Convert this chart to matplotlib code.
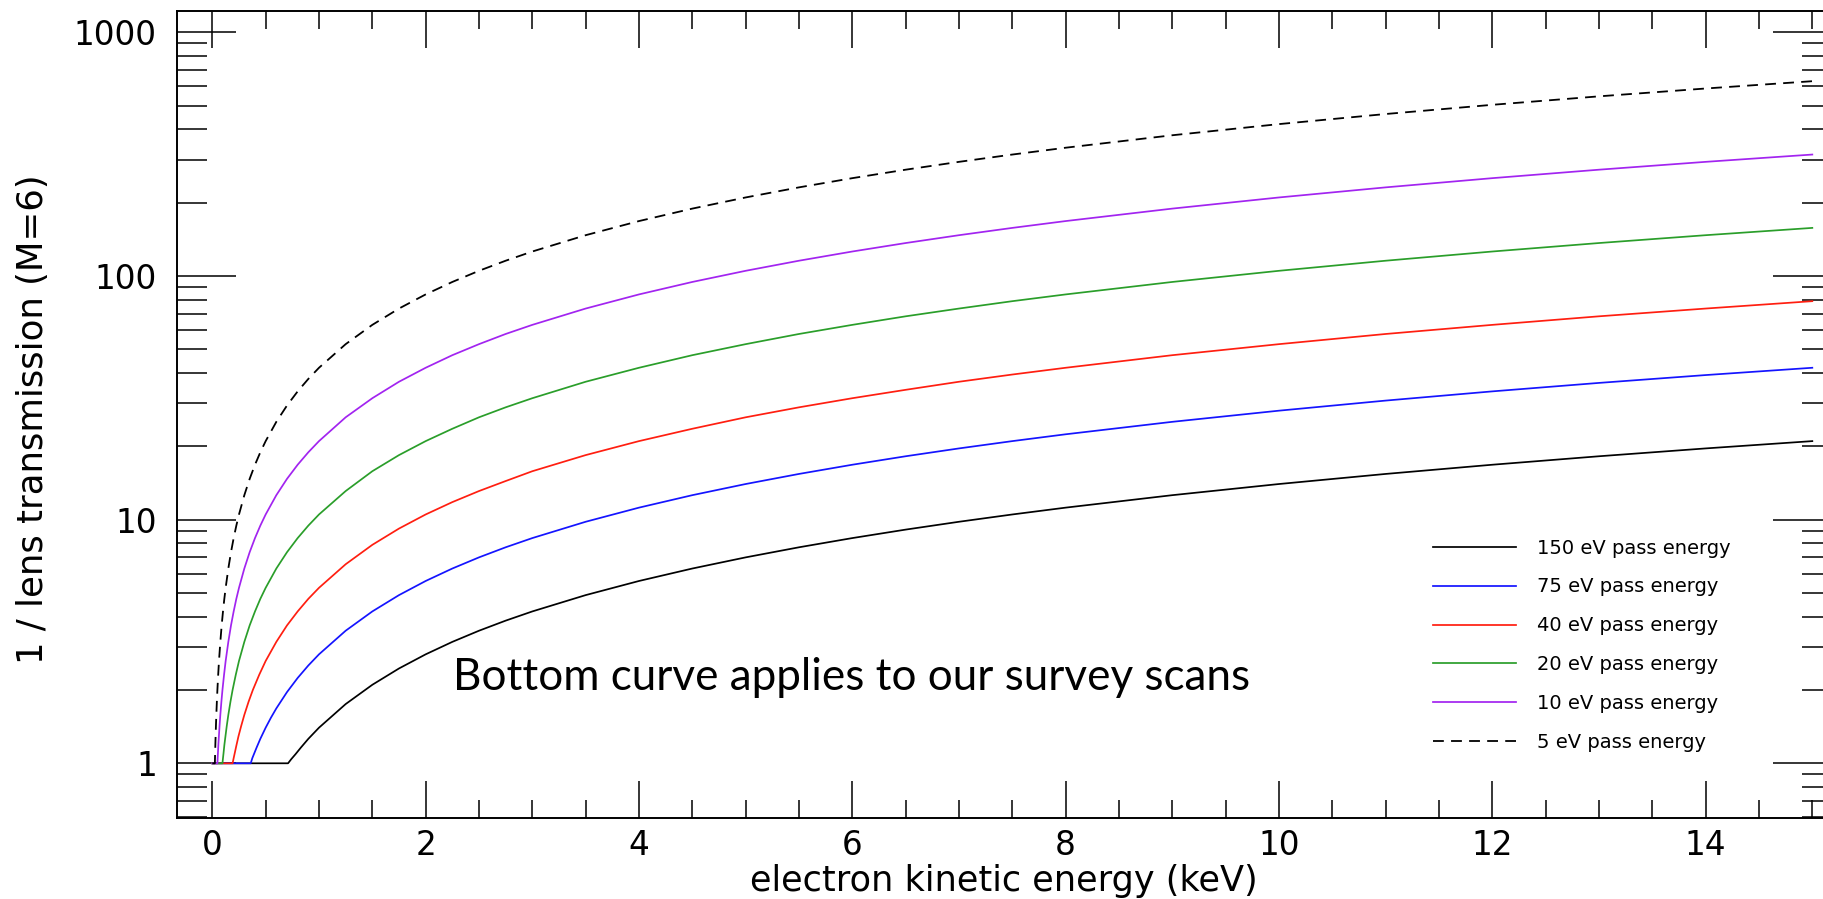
import matplotlib
matplotlib.use("Agg")
import matplotlib.pyplot as plt
from matplotlib import ticker

# ---- data (x in keV, y = 1 / lens transmission) ----
labels = ["150 eV pass energy", "75 eV pass energy", "40 eV pass energy",
          "20 eV pass energy", "10 eV pass energy", "5 eV pass energy"]
colors = ["#000000", "#1414ff", "#ff1e10", "#2a9e2a", "#a224f0", "#000000"]
styles = ["-", "-", "-", "-", "-", "--"]

# shared x positions (keV) at which every curve was read above 1 keV
x_tail = [1.0, 1.25, 1.5, 1.75, 2.0, 2.25, 2.5, 2.75, 3.0, 3.5, 4.0, 4.5, 5.0, 5.5,
          6.0, 6.5, 7, 7.5, 8, 9, 10, 11, 12, 13, 14, 15]

x150 = [0, 0.71, 0.74, 0.78, 0.83, 0.9] + x_tail
y150 = [1, 1, 1.04, 1.09, 1.16, 1.26,
        1.4, 1.75, 2.1, 2.45, 2.8, 3.15, 3.5, 3.85, 4.2, 4.9, 5.6, 6.3, 7.0, 7.7,
        8.4, 9.1, 9.8, 10.5, 11.2, 12.6, 14, 15.4, 16.8, 18.2, 19.6, 21]

x75 = [0, 0.36, 0.375, 0.39, 0.415, 0.45, 0.5, 0.55, 0.6, 0.7, 0.8, 0.9] + x_tail
y75 = [1, 1, 1.05, 1.09, 1.16, 1.26, 1.4, 1.54, 1.68, 1.96, 2.24, 2.52,
       2.8, 3.5, 4.2, 4.9, 5.6, 6.3, 7.0, 7.7, 8.4, 9.8, 11.2, 12.6, 14, 15.4,
       16.8, 18.2, 19.6, 21, 22.4, 25.2, 28, 30.8, 33.6, 36.4, 39.2, 42]

x40 = [0, 0.19, 0.2, 0.21, 0.225, 0.245, 0.27, 0.3, 0.34, 0.38, 0.44, 0.5, 0.6,
       0.7, 0.8, 0.9] + x_tail
y40 = [1, 1, 1.05, 1.1, 1.18, 1.29, 1.42, 1.58, 1.79, 2.0, 2.31, 2.63, 3.15, 3.68,
       4.2, 4.73,
       5.25, 6.56, 7.88, 9.19, 10.5, 11.8, 13.1, 14.4, 15.8, 18.4, 21, 23.6, 26.3,
       28.9, 31.5, 34.1, 36.8, 39.4, 42, 47.3, 52.5, 57.8, 63, 68.3, 73.5, 78.8]

x20 = [0, 0.095, 0.1, 0.105, 0.113, 0.123, 0.135, 0.15, 0.17, 0.19, 0.22, 0.25,
       0.3, 0.35, 0.4, 0.45, 0.5, 0.6, 0.7, 0.8, 0.9] + x_tail
y20 = [1, 1, 1.05, 1.1, 1.19, 1.29, 1.42, 1.58, 1.79, 2.0, 2.31, 2.63, 3.15, 3.68,
       4.2, 4.73, 5.25, 6.3, 7.35, 8.4, 9.45,
       10.5, 13.1, 15.8, 18.4, 21, 23.6, 26.3, 28.9, 31.5, 36.8, 42, 47.3, 52.5,
       57.8, 63, 68.3, 73.5, 78.8, 84, 94.5, 105, 115.5, 126, 136.5, 147, 157.5]

x10 = [0, 0.048, 0.05, 0.053, 0.057, 0.062, 0.068, 0.075, 0.085, 0.095, 0.11,
       0.125, 0.15, 0.175, 0.2, 0.225, 0.25, 0.3, 0.35, 0.4, 0.45, 0.5, 0.6, 0.7,
       0.8, 0.9] + x_tail
y10 = [1, 1, 1.05, 1.11, 1.2, 1.3, 1.43, 1.58, 1.79, 2.0, 2.31, 2.63, 3.15, 3.68,
       4.2, 4.73, 5.25, 6.3, 7.35, 8.4, 9.45, 10.5, 12.6, 14.7, 16.8, 18.9,
       21, 26.3, 31.5, 36.8, 42, 47.3, 52.5, 57.8, 63, 73.5, 84, 94.5, 105, 115.5,
       126, 136.5, 147, 157.5, 168, 189, 210, 231, 252, 273, 294, 315]

x5 = [0, 0.024, 0.025, 0.0265, 0.0285, 0.031, 0.034, 0.0375, 0.0425, 0.0475,
      0.055, 0.0625, 0.075, 0.0875, 0.1, 0.1125, 0.125, 0.15, 0.175, 0.2, 0.225,
      0.25, 0.3, 0.35, 0.4, 0.45, 0.5, 0.6, 0.7, 0.8, 0.9] + x_tail
y5 = [1, 1, 1.05, 1.11, 1.2, 1.3, 1.43, 1.58, 1.79, 2.0, 2.31, 2.63, 3.15, 3.68,
      4.2, 4.73, 5.25, 6.3, 7.35, 8.4, 9.45, 10.5, 12.6, 14.7, 16.8, 18.9, 21,
      25.2, 29.4, 33.6, 37.8,
      42, 52.5, 63, 73.5, 84, 94.5, 105, 115.5, 126, 147, 168, 189, 210, 231, 252,
      273, 294, 315, 336, 378, 420, 462, 504, 546, 588, 630]

xs = [x150, x75, x40, x20, x10, x5]
ys = [y150, y75, y40, y20, y10, y5]

xticks_major = [0, 2, 4, 6, 8, 10, 12, 14]
yticks_major = [1, 10, 100, 1000]
annotation = "Bottom curve applies to our survey scans"
xlabel = "electron kinetic energy (keV)"
ylabel = "1 / lens transmission (M=6)"

# ---- figure ----
W, H = 1823, 899
fig = plt.figure(figsize=(W / 100, H / 100), dpi=100)
L, R, T, B = 176.7, 1831.5, 11.0, 817.7
ax = fig.add_axes([L / W, (H - B) / H, (R - L) / W, (B - T) / H])

for x, y, c, s, lab in zip(xs, ys, colors, styles, labels):
    if s == "--":
        ax.plot(x, y, color=c, lw=1.3, dashes=(6.0, 4.0), label=lab)
    else:
        ax.plot(x, y, color=c, lw=1.25, label=lab)

ax.set_yscale("log")
ax.set_xlim(-0.334, 15.18)
ax.set_ylim(0.598, 1223)

ax.set_xticks(xticks_major)
ax.xaxis.set_minor_locator(ticker.MultipleLocator(0.5))
ax.set_yticks(yticks_major)
ax.yaxis.set_major_formatter(ticker.FuncFormatter(lambda v, p: f"{v:g}"))
ax.yaxis.set_minor_locator(ticker.LogLocator(base=10, subs=range(2, 10)))
ax.yaxis.set_minor_formatter(ticker.NullFormatter())

for sp in ax.spines.values():
    sp.set_linewidth(1.4)

ax.tick_params(axis="x", which="major", direction="in", length=26.6, width=1.1,
               top=True, bottom=True, labelsize=23.5, pad=8)
ax.tick_params(axis="x", which="minor", direction="in", length=13.3, width=1.1,
               top=True, bottom=True)
ax.tick_params(axis="y", which="major", direction="in", length=42.3, width=1.1,
               left=True, right=True, labelsize=23.5, pad=14.4)
ax.tick_params(axis="y", which="minor", direction="in", length=21.6, width=1.1,
               left=True, right=True)

ax.set_xlabel(xlabel, fontsize=25.3)
ax.set_ylabel(ylabel, fontsize=25.6)
ax.xaxis.set_label_coords(0.5, -0.058)
ax.yaxis.set_label_coords(-0.0766, 0.4936)

leg = ax.legend(loc="upper left", bbox_to_anchor=(0.7592, 0.3459), frameon=False,
                fontsize=14, handlelength=4.25, handletextpad=1.08,
                labelspacing=1.02, borderpad=0, borderaxespad=0)

t = ax.text(2.257, 2.0, annotation, fontsize=34, family="Lato",
            va="baseline", ha="left")
fig.canvas.draw()
bb = t.get_window_extent()
t.set_fontsize(34 * 797.0 / bb.width)

fig.savefig("out.png", dpi=100)
